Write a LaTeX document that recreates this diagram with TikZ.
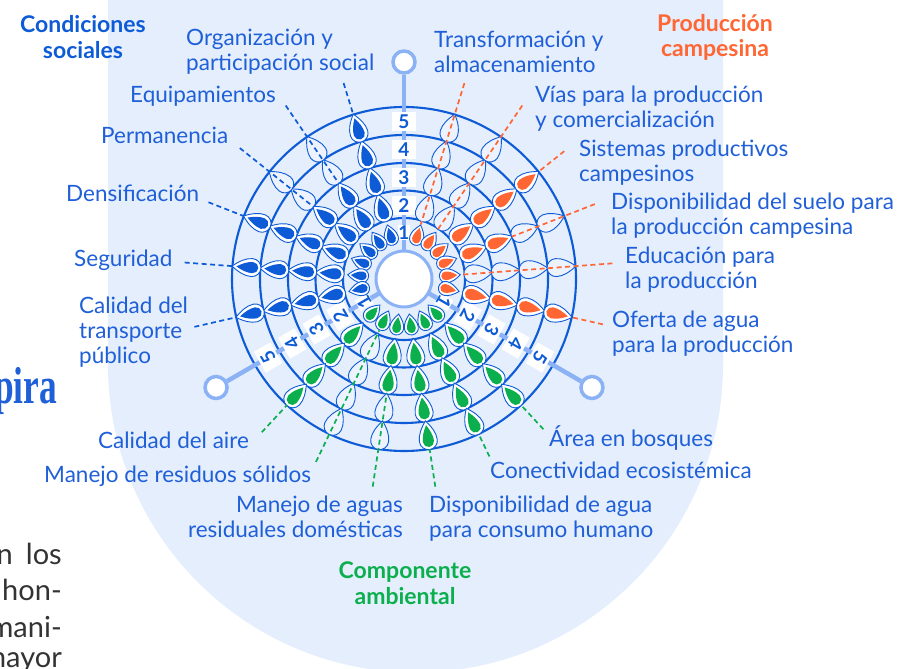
\documentclass[tikz,border=0pt]{standalone}
\usepackage{fontspec}
\setmainfont{Lato}
\newfontfamily\pageserif{Liberation Serif}
\usetikzlibrary{calc}

\definecolor{bgblue}{HTML}{E4EEFD}
\definecolor{ringblue}{HTML}{0D5BD6}
\definecolor{txtblue}{HTML}{1F5FD8}
\definecolor{axisblue}{HTML}{8CB2F6}
\definecolor{orng}{HTML}{FF6633}
\definecolor{grn}{HTML}{0BAF4D}
\definecolor{emptyfill}{HTML}{EDF3FE}

% drop shape: length #1, half width #2, tip on +x
\newcommand{\droppath}[2]{(#1/2,0) .. controls ({#1/2-0.35*(#1-#2)},{0.6*#2}) and ({-#1/2+#2+0.35*(#1-#2)},#2) .. ({-#1/2+#2},#2) arc[start angle=90,end angle=270,radius=#2] .. controls ({-#1/2+#2+0.35*(#1-#2)},{-#2}) and ({#1/2-0.35*(#1-#2)},{-0.6*#2}) .. (#1/2,0) -- cycle}

% angle/level/colour/flip/end radius/start radius
\def\indicators{107.14/5/ringblue/1/172/205, 124.29/3/ringblue/1/116/210, 141.43/3/ringblue/1/116/210,
  158.57/5/ringblue/1/172/210, 175.71/5/ringblue/1/172/220, 192.86/5/ringblue/1/172/215,
  72.86/1/orng/1/57/205, 55.71/1/orng/1/57/210, 38.57/5/orng/1/172/205,
  21.43/3/orng/1/116/205, 4.29/1/orng/1/57/209, -12.86/5/orng/1/172/204,
  227.14/5/grn/-1/172/209, 244.29/1/grn/-1/57/203, 261.43/3/grn/-1/116/210,
  278.57/5/grn/-1/172/210, 295.71/5/grn/-1/172/197, 312.86/5/grn/-1/172/205}

\begin{document}
\begin{tikzpicture}[x=1pt, y=1pt,
    ring/.style={draw=ringblue, line width=2.1pt},
    axis/.style={draw=axisblue, line width=4.5pt},
    petal/.style={draw=ringblue, line width=0.9pt, fill=emptyfill},
    leader/.style={line width=1.7pt, dash pattern=on 5pt off 3.5pt},
    lbl/.style={text=txtblue, font=\fontsize{22.5}{25}\selectfont, inner sep=0pt},
    head/.style={font=\fontsize{23}{25.5}\selectfont\bfseries, align=center, inner sep=0pt},
    numbox/.style={fill=white, inner sep=0pt, text=ringblue, font=\fontsize{19}{19}\selectfont\bfseries},
    knob/.style={circle, draw=axisblue, fill=white, line width=3.5pt, minimum size=22pt, inner sep=0pt},
    pagetxt/.style={text=black!80, font=\fontsize{29}{34}\selectfont, anchor=east, inner sep=0pt}]

  \useasboundingbox (0,0) rectangle (902,669);
  \coordinate (C) at (404,390); % centre of the wheel

  \fill[bgblue] (108,670) -- (108,304) arc[start angle=180, end angle=360, radius=307.5] -- (723,670) -- cycle; % panel

  \foreach \r in {61,88.5,116,144,172} \draw[ring] (C) circle[radius=\r]; % rings

  \foreach \ax in {90,210,330} {
    \node[knob] (knob\ax) at ($(C)+(\ax:217)$) {};
    \draw[axis] (C) -- (knob\ax); % scale axis
    \foreach \n/\r/\bw/\bh in {1/46/12/15, 2/73.5/24/19, 3/101/24/19, 4/129/24/19, 5/157/24/19}
      \node[numbox, minimum width=\bw pt, minimum height=\bh pt, rotate=\ax-90] (num\ax-\n) at ($(C)+(\ax:\r)$) {\n};
  }
  \node[circle, fill=white, draw=axisblue, line width=3pt, minimum size=56pt] (hub) at (C) {}; % centre disk

  % petals, five per indicator
  \foreach \ang/\lev/\col/\flip/\re/\rs in \indicators {
    \foreach \k/\rr/\ll/\ww in {1/46/21/7, 2/74.5/29/9, 3/102/29/9, 4/130/29/9, 5/158/29/9} {
      \begin{scope}[shift={(C)}, rotate=\ang, shift={(\rr,0)}, xscale=\flip]
        \ifnum\k>\lev
          \filldraw[petal] \droppath{\ll}{\ww};
        \else
          \pgfmathsetmacro\li{\ll*0.76}
          \pgfmathsetmacro\wi{\ww*0.62}
          \pgfmathsetmacro\sh{-\ll*0.03}
          \filldraw[petal, fill=white] \droppath{\ll}{\ww};
          \fill[\col, shift={(\sh,0)}] \droppath{\li}{\wi};
        \fi
      \end{scope}
    }
  }

  % leaders
  \foreach \ang/\lev/\col/\flip/\re/\rs [count=\i] in \indicators {
    \coordinate (ld\i) at ($(C)+(\ang:\rs)$);
    \coordinate (pt\i) at ($(C)+(\ang:\re)$);
    \draw[leader, \col] (ld\i) -- (pt\i);
  }

  % labels
  \node[lbl, align=left, anchor=west] (orgpart) at (186,617.5) {Organización y\\participación social};
  \node[lbl, align=left, anchor=west] (transf) at (434,617.5) {Transformación y\\almacenamiento};
  \node[lbl, align=left, anchor=west] (vias) at (535,560.5) {Vías para la producción\\y comercialización};
  \node[lbl, align=left, anchor=west] (sistemas) at (579,506.5) {Sistemas productivos\\campesinos};
  \node[lbl, align=left, anchor=west] (suelo) at (611,453.5) {Disponibilidad del suelo para\\la producción campesina};
  \node[lbl, align=left, anchor=west] (educ) at (625,399.5) {Educación para\\la producción};
  \node[lbl, align=left, anchor=west] (oferta) at (612,335.5) {Oferta de agua\\para la producción};
  \node[lbl, anchor=west] (bosques) at (549,231) {Área en bosques};
  \node[lbl, anchor=west] (conect) at (490,199) {Conectividad ecosistémica};
  \node[lbl, align=left, anchor=west] (aguacons) at (429,150.5) {Disponibilidad de agua\\para consumo humano};
  \node[lbl, align=right, anchor=east] (aguasres) at (403,152.5) {Manejo de aguas\\residuales domésticas};
  \node[lbl, anchor=west] (residuos) at (44,193) {Manejo de residuos sólidos};
  \node[lbl, anchor=west] (aire) at (98,229) {Calidad del aire};
  \node[lbl, align=left, anchor=west] (transporte) at (79,337) {Calidad del\\transporte\\público};
  \node[lbl, anchor=west] (seguridad) at (74,409) {Seguridad};
  \node[lbl, anchor=west] (densif) at (66,476) {Densificación};
  \node[lbl, anchor=west] (perman) at (101,534) {Permanencia};
  \node[lbl, anchor=west] (equip) at (130,573) {Equipamientos};

  \node[head, text=ringblue] (hsocial) at (83,632) {Condiciones\\sociales}; % group titles
  \node[head, text=orng] (hprod) at (715,631.5) {Producción\\campesina};
  \node[head, text=grn] (hamb) at (405,86) {Componente\\ambiental};

  % cut-off page text on the left
  \begin{scope}[shift={(57,265)}, xscale=0.68]
    \node[transform shape, anchor=base east, inner sep=0pt, text=txtblue, font=\pageserif\bfseries\fontsize{52}{52}\selectfont] (title) at (0,0) {pira};
  \end{scope}
  \node[pagetxt] (frag1) at (62,115) {n\hspace{0.45em}los};
  \node[pagetxt] (frag2) at (62,79) {hon-};
  \node[pagetxt] (frag3) at (62,42) {mani-};
  \node[pagetxt] (frag4) at (62,6) {mayor};
\end{tikzpicture}
\end{document}
